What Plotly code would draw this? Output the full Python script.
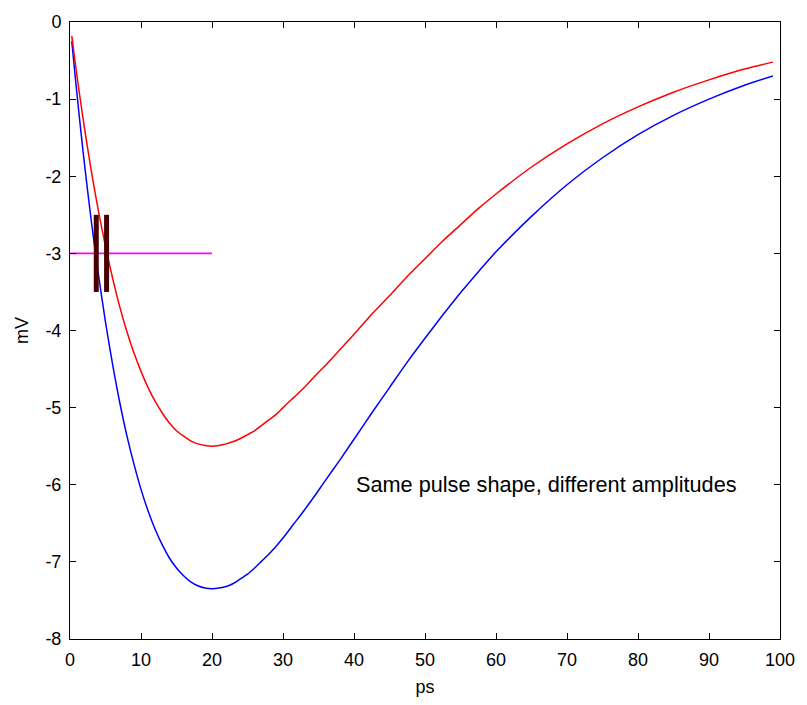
import plotly.graph_objects as go

# Sample times (ps)
t_ps = [0.25, 0.5, 1, 1.5, 2,
        3, 4, 5, 6, 7, 8, 9, 10, 11, 12, 13, 14, 15, 16, 17, 18, 19, 20,
        21, 22, 23, 24, 25, 26, 27, 28, 29, 30,
        31.5, 33, 34.5, 36, 38, 40, 42.5, 45, 47.5, 50, 52.5, 55, 57.5, 60,
        65, 70, 75, 80, 85, 90, 95, 99]

# Larger pulse (mV)
pulse_large = [-0.25, -0.49, -0.95, -1.39, -1.81,
               -2.58, -3.27, -3.89, -4.44, -4.93, -5.36, -5.73, -6.06, -6.34, -6.58,
               -6.78, -6.95, -7.08, -7.18, -7.26, -7.31, -7.34, -7.35,
               -7.34, -7.32, -7.28, -7.22, -7.16, -7.08, -6.99, -6.90, -6.80, -6.69,
               -6.51, -6.33, -6.14, -5.94, -5.68, -5.41, -5.07, -4.74, -4.41, -4.10,
               -3.80, -3.51, -3.24, -2.98,
               -2.52, -2.11, -1.76, -1.46, -1.21, -1.00, -0.82, -0.70]

# Smaller pulse (mV)
pulse_small = [-0.18, -0.36, -0.71, -1.04, -1.35,
               -1.93, -2.45, -2.91, -3.32, -3.69, -4.01, -4.29, -4.53, -4.74, -4.92,
               -5.07, -5.20, -5.30, -5.37, -5.43, -5.47, -5.49, -5.50,
               -5.49, -5.47, -5.44, -5.40, -5.35, -5.30, -5.23, -5.16, -5.09, -5.00,
               -4.87, -4.74, -4.59, -4.45, -4.25, -4.05, -3.79, -3.55, -3.30, -3.07,
               -2.84, -2.63, -2.42, -2.23,
               -1.88, -1.58, -1.32, -1.10, -0.91, -0.75, -0.61, -0.52]

# Threshold line
threshold_x = [0, 20]
threshold_mv = -3

# Threshold crossing markers
crossing_x = [3.7, 5.15]
marker_top = -2.5
marker_bottom = -3.5

x_ticks = list(range(0, 101, 10))
y_ticks = list(range(-8, 1))

FONT = "Liberation Sans, Arial"

fig = go.Figure()
fig.add_trace(go.Scatter(x=t_ps, y=pulse_large, mode="lines",
                         line=dict(color="#0000ff", width=1.5, shape="spline", smoothing=0.8)))
fig.add_trace(go.Scatter(x=t_ps, y=pulse_small, mode="lines",
                         line=dict(color="#ff0000", width=1.5, shape="spline", smoothing=0.8)))
fig.add_trace(go.Scatter(x=threshold_x, y=[threshold_mv] * len(threshold_x), mode="lines",
                         line=dict(color="#ff00ff", width=1.6)))
for cx in crossing_x:
    fig.add_trace(go.Scatter(x=[cx, cx], y=[marker_top, marker_bottom], mode="lines",
                             line=dict(color="#4a0000", width=5)))

fig.add_annotation(x=40, y=-6, text="Same pulse shape, different amplitudes",
                   showarrow=False, xanchor="left", yanchor="middle",
                   font=dict(family=FONT, size=21.7, color="#000000"))

axis_common = dict(showgrid=False, zeroline=False, showline=True, linecolor="#000000",
                   linewidth=1, mirror="ticks", ticks="inside", ticklen=6,
                   tickcolor="#000000", tickwidth=1,
                   tickfont=dict(family=FONT, size=18, color="#000000"))

fig.update_layout(
    width=807, height=705,
    margin=dict(l=70, r=17, t=19, b=66),
    paper_bgcolor="#ffffff", plot_bgcolor="#ffffff",
    showlegend=False,
    xaxis=dict(range=[0, 100], tickvals=x_ticks, ticktext=[str(v) for v in x_ticks],
               title=dict(text="ps", font=dict(family=FONT, size=18, color="#000000"),
                          standoff=11),
               ticklabelstandoff=4, **axis_common),
    yaxis=dict(range=[-8, 0], tickvals=y_ticks, ticktext=[str(v) for v in y_ticks],
               title=dict(text="mV", font=dict(family=FONT, size=18, color="#000000"),
                          standoff=12),
               ticklabelstandoff=4, **axis_common),
)

fig.write_html("out.html")
